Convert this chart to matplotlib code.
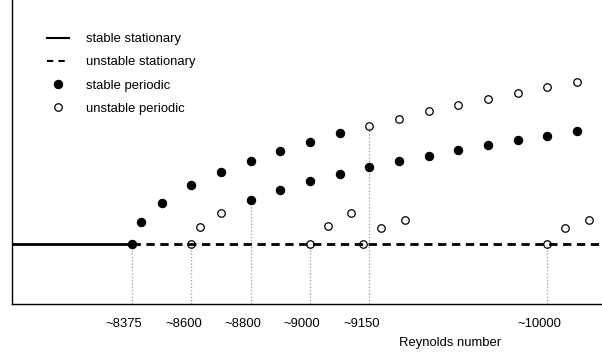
import matplotlib
matplotlib.use('Agg')
import matplotlib.pyplot as plt
import matplotlib.transforms as mtransforms
from matplotlib.lines import Line2D

plt.rcParams['font.family'] = ['Liberation Sans', 'DejaVu Sans']

# schematic x position (one unit = one periodic-orbit step), amplitude in arbitrary units
tick_x = [0, 2, 4, 6, 8, 14]
tick_labels = ['~8375', '~8600', '~8800', '~9000', '~9150', '~10000']
guide_top = [0, 0, 44, 0, 118.3, 0]

upper_stable_x = [0, 0.3, 1, 2, 3, 4, 5, 6, 7]
upper_stable_y = [0, 22.3, 41.3, 58.7, 72, 83.3, 93.3, 102.3, 110.7]
upper_unstable_x = [8, 9, 10, 11, 12, 13, 14, 15]
upper_unstable_y = [118.3, 125.3, 132.7, 139, 145, 151.3, 157, 162.3]
lower_stable_x = [4, 5, 6, 7, 8, 9, 10, 11, 12, 13, 14, 15]
lower_stable_y = [44, 54, 62.7, 70, 76.7, 83, 88.3, 94, 99, 104, 108.3, 113]
small_unstable_x = [2, 2.3, 3, 6, 6.6, 7.4, 7.8, 8.4, 9.2, 14, 14.6, 15.4]
small_unstable_y = [0, 16.7, 30.7, 0, 18, 30.7, 0, 15.7, 24, 0, 15.7, 24]

fig = plt.figure(figsize=(6.02, 3.52), dpi=100)
ax = fig.add_axes([12 / 602, 48 / 352, 1 - 12 / 602, 1 - 48 / 352])
ax.set_xlim(-4.05, 15.85)
ax.set_ylim(-60, 244)

# guide lines from the axis up to the bifurcation points
ax.vlines(tick_x, -60, guide_top, colors='#9a9a9a', linestyles=':', linewidth=0.9, zorder=1)

# stationary branch
ax.plot([-4.05, 0], [0, 0], color='black', lw=2.0, zorder=2)
ax.plot([0, 15.85], [0, 0], color='black', lw=2.0, dashes=(3.0, 2.0), zorder=2)

filled = dict(marker='o', ls='none', color='black', markersize=5.8, zorder=3)
hollow = dict(marker='o', ls='none', markerfacecolor='none', markeredgecolor='black',
              markersize=5.4, markeredgewidth=0.9, zorder=3)
ax.plot(upper_stable_x, upper_stable_y, **filled)
ax.plot(lower_stable_x, lower_stable_y, **filled)
ax.plot(upper_unstable_x, upper_unstable_y, **hollow)
ax.plot(small_unstable_x, small_unstable_y, **hollow)

for s in ['top', 'right']:
    ax.spines[s].set_visible(False)
for s in ['left', 'bottom']:
    ax.spines[s].set_linewidth(1.0)
ax.set_yticks([])
ax.set_xticks(tick_x)
ax.set_xticklabels(tick_labels, fontsize=9.4)
ax.tick_params(axis='x', length=0, pad=10)
offset = mtransforms.ScaledTranslation(-8 / 100, 0, fig.dpi_scale_trans)
for lab in ax.get_xticklabels():
    lab.set_transform(lab.get_transform() + offset)

fig.text(399 / 602, 1 - 343 / 352, 'Reynolds number', fontsize=9.4, ha='left', va='center')

handles = [
    Line2D([], [], color='black', lw=1.5),
    Line2D([], [], color='black', lw=1.5, dashes=(3.0, 2.5)),
    Line2D([], [], **{k: v for k, v in filled.items() if k != 'zorder'}),
    Line2D([], [], **{k: v for k, v in hollow.items() if k != 'zorder'}),
]
labels = ['stable stationary', 'unstable stationary', 'stable periodic', 'unstable periodic']
fig.legend(handles, labels, loc='upper left', bbox_to_anchor=(47 / 602, 1 - 33 / 352),
           frameon=False, fontsize=9.4, handlelength=1.65, handletextpad=1.35,
           labelspacing=0.85, borderpad=0, borderaxespad=0)

fig.savefig('out.png', dpi=100)
